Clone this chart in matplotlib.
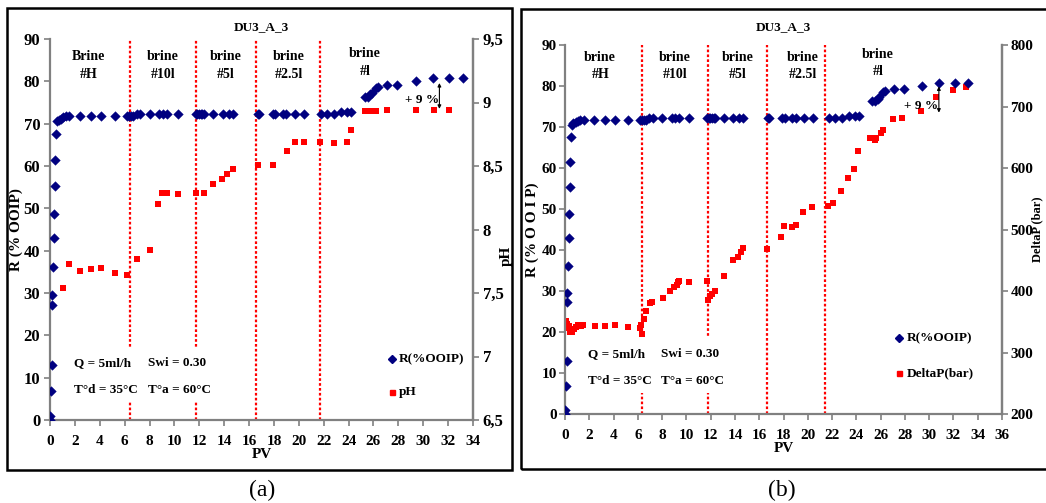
import matplotlib
matplotlib.use("Agg")
import matplotlib.pyplot as plt
from matplotlib.patches import Rectangle
from matplotlib.lines import Line2D

plt.rcParams['font.family'] = ['Liberation Serif', 'DejaVu Serif']
plt.rcParams['font.weight'] = 'bold'

# ---------------- data ----------------
title = "DU3_A_3"
pv_r = [0.0, 0.02, 0.05, 0.13, 0.13, 0.2, 0.27, 0.35, 0.35, 0.43,
        0.43, 0.48, 0.54, 0.7, 0.88, 1.07, 1.26, 1.53, 2.41, 3.27,
        4.1, 5.2, 6.16, 6.35, 6.5, 6.65, 6.96, 7.23, 8.0, 8.78,
        9.1, 9.37, 10.25, 11.72, 11.85, 11.95, 12.1, 12.25, 12.35, 13.1,
        13.87, 14.35, 14.7, 16.7, 16.8, 17.9, 18.1, 18.7, 19.0, 19.7,
        20.45, 21.75, 22.25, 22.8, 23.4, 23.9, 24.2, 25.3, 25.57, 25.76,
        25.9, 26.2, 26.35, 27.1, 27.9, 29.45, 30.8, 32.1, 33.2]
recovery = [0, 0.9, 6.9, 13.0, 27.2, 29.5, 36.2, 43.0, 48.7, 55.3,
            61.4, 67.5, 70.6, 70.9, 71.1, 71.5, 71.7, 71.7, 71.7, 71.7,
            71.7, 71.7, 71.7, 71.7, 71.7, 71.7, 72.3, 72.3, 72.3, 72.3,
            72.3, 72.3, 72.3, 72.3, 72.3, 72.3, 72.3, 72.3, 72.3, 72.3,
            72.3, 72.3, 72.3, 72.3, 72.3, 72.3, 72.3, 72.3, 72.3, 72.3,
            72.3, 72.3, 72.3, 72.3, 72.8, 72.8, 72.8, 76.3, 76.3, 76.9,
            77.2, 78.5, 78.7, 79.2, 79.2, 80.1, 80.8, 80.8, 80.8]

pv_ph = [1.07, 1.53, 2.41, 3.27, 4.1, 5.2, 6.16, 7.0, 8.03, 8.67,
         8.99, 9.37, 10.25, 11.72, 12.37, 13.1, 13.8, 14.25, 14.7, 16.7,
         17.9, 19.06, 19.7, 20.4, 21.7, 22.8, 23.9, 24.2, 25.3, 25.76,
         26.24, 27.1, 29.45, 30.85, 32.1]
ph = [7.54, 7.73, 7.67, 7.69, 7.70, 7.66, 7.64, 7.77, 7.84, 8.20,
      8.29, 8.29, 8.28, 8.29, 8.29, 8.36, 8.40, 8.44, 8.48, 8.51,
      8.51, 8.62, 8.69, 8.69, 8.69, 8.68, 8.69, 8.78, 8.93, 8.93,
      8.93, 8.94, 8.94, 8.94, 8.94]

pv_dp = [0.05, 0.1, 0.15, 0.2, 0.25, 0.3, 0.4, 0.5, 0.6, 0.75, 0.9, 1.1, 1.3, 1.5,
         2.47, 3.3, 4.1, 5.2, 6.17, 6.23, 6.34, 6.5, 6.7, 7.0, 7.2, 8.04,
         8.64, 8.97, 9.2, 9.33, 9.4, 10.2, 11.66, 11.75, 11.94, 12.13, 12.35,
         13.1, 13.8, 14.27, 14.46, 14.7, 16.6, 17.8, 18.06, 18.66, 19.0, 19.6,
         20.36, 21.68, 22.1, 22.7, 23.3, 23.8, 24.15, 25.16, 25.5, 25.66,
         26.07, 26.2, 27.0, 27.8, 29.36, 30.6, 32.0, 33.0]
deltap = [350, 352, 347, 345, 340, 343, 334, 336, 333, 338, 342, 345, 343, 345,
          343, 343, 344, 341, 340, 345, 330, 355, 368, 380, 382, 388,
          400, 407, 409, 414, 416, 414, 416, 386, 392, 395, 400,
          424, 450, 455, 464, 470, 469, 488, 505, 504, 507, 528,
          537, 538, 543, 562, 583, 598, 627, 648, 646, 648,
          657, 662, 679, 681, 692, 715, 727, 732]

brine_labels_a = ["Brine\n#H", "brine\n#10l", "brine\n#5l", "brine\n#2.5l", "brine\n#l"]
brine_labels_b = ["brine\n#H", "brine\n#10l", "brine\n#5l", "brine\n#2.5l", "brine\n#l"]
label_pv_a = [3.1, 9.1, 14.1, 19.2, 25.3]
label_pv_b = [2.9, 9.06, 14.25, 19.6, 25.8]
switch_pv_a = [6.43, 11.74, 16.56, 21.7]
switch_pv_b = [6.37, 11.8, 16.66, 21.4]

BLUE = '#000080'
RED = '#ff0000'
SPINE = '#808080'
FS_TXT = 9.5
FS_XT = 11

fig = plt.figure(figsize=(10.46, 5.03), dpi=100)
W, H = 1046, 503

def fx(x): return x / W
def fy(y): return 1 - y / H

# panel frames
fig.add_artist(Rectangle((fx(7), fy(470)), fx(505), fy(8) - fy(470), transform=fig.transFigure,
                         fill=False, edgecolor='black', linewidth=1.8))
fig.add_artist(Rectangle((fx(521), fy(469)), fx(540), fy(9) - fy(469), transform=fig.transFigure,
                         fill=False, edgecolor='black', linewidth=1.8))

def style_axes(ax, ax2, yt_fs, yt_pad):
    for a in (ax, ax2):
        a.spines['top'].set_visible(False)
        for s in ('left', 'right', 'bottom'):
            a.spines[s].set_color(SPINE)
            a.spines[s].set_linewidth(1.6)
        a.tick_params(axis='y', direction='out', length=4, width=1.2, color=SPINE,
                      labelsize=yt_fs, pad=yt_pad)
        a.tick_params(axis='x', direction='out', length=4, width=1.2, color=SPINE,
                      labelsize=FS_XT, pad=7)
        for lab in a.get_xticklabels() + a.get_yticklabels():
            lab.set_fontweight('bold')
    ax2.spines['left'].set_visible(False)
    ax2.spines['bottom'].set_visible(False)

def panel(rect, xmax, xticks, switch_pv, labels, label_pv, label_r, sec_x, sec_y, sec_lim,
          sec_ticks, sec_ticklabels, sec_name, r_label, sec_ylabel, ylab_pos, sec_ylab_pos,
          sec_ylab_fs, box_r, arrow_pv, arrow_r, pct_pv, pct_r, txt_r, leg_x, leg_y, title_y,
          yt_fs, yt_pad):
    ax = fig.add_axes(rect)
    ax.set_xlim(0, xmax)
    ax.set_ylim(0, 90)
    ax.set_xticks(xticks)
    ax.set_yticks(range(0, 91, 10))
    ax2 = ax.twinx()
    ax2.set_ylim(*sec_lim)
    ax2.set_yticks(sec_ticks)
    ax2.set_yticklabels(sec_ticklabels)
    ax.set_zorder(2)
    ax.patch.set_visible(False)

    for p in switch_pv:
        ax.axvline(p, color=RED, linestyle=(0, (1.2, 1.0)), linewidth=1.6, zorder=1)
    ax.add_patch(Rectangle((1.2, box_r[0]), 13.0, box_r[1] - box_r[0], facecolor='white',
                           edgecolor='none', zorder=1.5))

    ax.scatter(pv_r, recovery, marker='D', s=24, color=BLUE, zorder=4, linewidths=0.3)
    ax2.scatter(sec_x, sec_y, marker='s', s=15, color=RED, zorder=3, linewidths=0)

    for lab, p, rr in zip(labels, label_pv, label_r):
        ax.text(p, rr, lab, ha='center', va='center', fontsize=FS_TXT + 0.5,
                fontweight='bold', linespacing=1.45, zorder=5)

    ax.text(1.9, txt_r[0], "Q = 5ml/h", fontsize=FS_TXT, fontweight='bold', va='center', zorder=5)
    ax.text(7.9, txt_r[0], "Swi = 0.30", fontsize=FS_TXT, fontweight='bold', va='center', zorder=5)
    ax.text(1.9, txt_r[1], "T°d = 35°C", fontsize=FS_TXT, fontweight='bold', va='center', zorder=5)
    ax.text(7.9, txt_r[1], "T°a = 60°C", fontsize=FS_TXT, fontweight='bold', va='center', zorder=5)

    ax.annotate('', xy=(arrow_pv, arrow_r[0]), xytext=(arrow_pv, arrow_r[1]),
                arrowprops=dict(arrowstyle='<|-|>', color='black', lw=0.8,
                                mutation_scale=5, shrinkA=0, shrinkB=0), zorder=5)
    ax.text(pct_pv, pct_r, "+ 9 %", fontsize=FS_TXT, fontweight='bold', ha='center',
            va='center', zorder=5)

    ax.set_xlabel("PV", fontsize=11, fontweight='bold', labelpad=0)
    ax.set_ylabel(r_label, fontsize=11, fontweight='bold')
    ax.yaxis.set_label_coords(*ylab_pos)
    ax2.set_ylabel(sec_ylabel, fontsize=sec_ylab_fs, fontweight='bold')
    ax2.yaxis.set_label_coords(*sec_ylab_pos)
    ax.set_title(title, fontsize=FS_TXT, fontweight='bold', y=title_y, pad=0)

    # legend keys (manual, axes coordinates)
    ax.add_line(Line2D([leg_x], [leg_y[0]], marker='D', markersize=4.5, color=BLUE,
                       linestyle='none', transform=ax.transAxes, zorder=5))
    ax.add_line(Line2D([leg_x], [leg_y[1]], marker='s', markersize=3.6, color=RED,
                       linestyle='none', transform=ax.transAxes, zorder=5))
    ax.text(leg_x + 0.017, leg_y[0], 'R(%OOIP)', transform=ax.transAxes, fontsize=FS_TXT,
            fontweight='bold', va='center', zorder=5)
    ax.text(leg_x + 0.017, leg_y[1], sec_name, transform=ax.transAxes, fontsize=FS_TXT,
            fontweight='bold', va='center', zorder=5)
    style_axes(ax, ax2, yt_fs, yt_pad)
    return ax, ax2

panel([fx(50), fy(420), fx(423), fy(39) - fy(420)], 34, range(0, 35, 2), switch_pv_a,
      brine_labels_a, label_pv_a, [83.7, 83.7, 83.7, 83.7, 84.5], pv_ph, ph, (6.5, 9.5),
      [6.5, 7, 7.5, 8, 8.5, 9, 9.5], ['6,5', '7', '7,5', '8', '8,5', '9', '9,5'], 'pH',
      'R (% OOIP)', 'pH', (-0.063, 0.5), (1.064, 0.43), 11, (4.3, 17.2),
      31.3, (79.6, 73.5), 29.9, 75.6, (13.5, 7.0), 0.808, (0.16, 0.073), 1.024, 12, 3)

panel([fx(565), fy(414), fx(437), fy(45) - fy(414)], 36, range(0, 37, 2), switch_pv_b,
      brine_labels_b, label_pv_b, [84.9, 84.9, 84.9, 84.9, 85.6], pv_dp, deltap, (200, 800),
      range(200, 801, 100), [str(v) for v in range(200, 801, 100)], 'DeltaP(bar)',
      'R (% O O I P)', 'DeltaP (bar)', (-0.06, 0.5), (1.0675, 0.5), 9, (5.1, 18.5),
      30.8, (79.9, 73.5), 29.3, 75.2, (14.6, 8.0), 0.764, (0.206, 0.111), 1.04, 11, 2)

fig.text(fx(262), fy(490), "(a)", fontsize=17, fontweight='normal', ha='center', va='center')
fig.text(fx(782), fy(490), "(b)", fontsize=17, fontweight='normal', ha='center', va='center')

fig.savefig("out.png", dpi=100)
